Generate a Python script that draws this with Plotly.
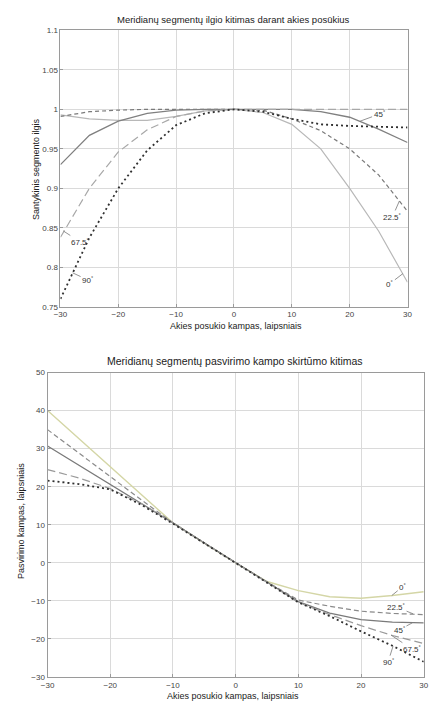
import plotly.graph_objects as go

# ---------------- data ----------------
angle_x = [-30, -25, -20, -15, -10, -5, 0, 5, 10, 15, 20, 25, 30]

meridians = ["0°", "22.5°", "45°", "67.5°", "90°"]

# top chart: relative segment length
len_0 = [0.993, 0.988, 0.986, 0.986, 0.991, 0.998, 1.0, 0.996, 0.981, 0.950, 0.900, 0.846, 0.781]
len_22 = [0.991, 0.997, 0.999, 1.0, 1.0, 1.0, 1.0, 0.999, 0.988, 0.973, 0.950, 0.917, 0.871]
len_45 = [0.930, 0.967, 0.985, 0.995, 0.999, 1.0, 1.0, 1.0, 1.0, 0.997, 0.990, 0.975, 0.958]
len_67 = [0.838, 0.900, 0.946, 0.974, 0.991, 0.998, 1.0, 1.0, 1.0, 1.0, 1.0, 1.0, 1.0]
len_90 = [0.760, 0.8375, 0.900, 0.948, 0.980, 0.995, 1.0, 0.997, 0.988, 0.981, 0.979, 0.978, 0.977]

# bottom chart: tilt angle difference, degrees
ang_0 = [40.0, 32.6, 25.3, 17.9, 10.5, 5.2, 0.0, -4.9, -7.3, -8.9, -9.3, -8.6, -7.6]
ang_22 = [35.0, 28.8, 22.6, 16.5, 10.5, 5.2, 0.0, -5.0, -9.8, -11.4, -12.7, -13.3, -13.6]
ang_45 = [30.7, 25.7, 20.7, 15.6, 10.5, 5.2, 0.0, -5.1, -10.2, -13.2, -14.9, -15.6, -15.8]
ang_67 = [24.5, 22.3, 19.5, 15.5, 10.5, 5.2, 0.0, -5.1, -10.4, -13.6, -16.5, -19.1, -21.2]
ang_90 = [21.6, 20.7, 19.3, 15.2, 10.3, 5.2, 0.0, -5.2, -10.4, -14.0, -18.0, -21.8, -26.0]

top_ticks = [0.75, 0.8, 0.85, 0.9, 0.95, 1.0, 1.05, 1.1]
top_tick_text = ["0.75", "0.8", "0.85", "0.9", "0.95", "1", "1.05", "1.1"]
x_ticks = [-30, -20, -10, 0, 10, 20, 30]
bot_ticks = [-30, -20, -10, 0, 10, 20, 30, 40, 50]

title_top = "Meridianų segmentų ilgio kitimas darant akies posūkius"
title_bot = "Meridianų segmentų pasvirimo kampo skirtūmo kitimas"
xlabel = "Akies posukio kampas, laipsniais"
ylabel_top = "Santykinis segmento ilgis"
ylabel_bot = "Pasvirimo kampas, laipsniais"

# ---------------- styles ----------------
W, H = 430, 706
FONT = "Liberation Sans, Arial, sans-serif"

top_styles = [
    dict(color="#b8b8b8", width=1.2, dash="solid"),
    dict(color="#7a7a7a", width=1.2, dash="4px,3px"),
    dict(color="#808080", width=1.3, dash="solid"),
    dict(color="#a8a8a8", width=1.2, dash="8px,4px"),
    dict(color="#303030", width=1.8, dash="2px,3px"),
]
bot_styles = [
    dict(color="#d4d6a6", width=1.4, dash="solid"),
    dict(color="#8a8a8a", width=1.2, dash="5px,3px"),
    dict(color="#7a7a7a", width=1.3, dash="solid"),
    dict(color="#9a9a9a", width=1.2, dash="8px,4px"),
    dict(color="#303030", width=1.8, dash="2px,3px"),
]

fig = go.Figure()
for vals, st, name in zip([len_0, len_22, len_45, len_67, len_90], top_styles, meridians):
    fig.add_trace(go.Scatter(x=angle_x, y=vals, mode="lines", line=st, name=name,
                             xaxis="x", yaxis="y", showlegend=False))
for vals, st, name in zip([ang_0, ang_22, ang_45, ang_67, ang_90], bot_styles, meridians):
    fig.add_trace(go.Scatter(x=angle_x, y=vals, mode="lines", line=st, name=name,
                             xaxis="x2", yaxis="y2", showlegend=False))


def px2x(p):
    return p / W


def px2y(p):
    return 1 - p / H


axis_common = dict(
    showline=True, linecolor="#9a9a9a", linewidth=1, mirror=True,
    showgrid=True, gridcolor="#dadada", gridwidth=1,
    ticks="inside", ticklen=3, tickcolor="#9a9a9a",
    tickfont=dict(family=FONT, size=8, color="#444"),
    zeroline=False,
)

fig.update_layout(
    width=W, height=H,
    margin=dict(l=0, r=0, t=0, b=0),
    paper_bgcolor="white", plot_bgcolor="white",
    xaxis=dict(domain=[px2x(55), px2x(412)], range=[-30, 30], tickvals=x_ticks,
               anchor="y", **axis_common),
    yaxis=dict(domain=[px2y(306.7), px2y(26.7)], range=[0.75, 1.1], tickvals=top_ticks,
               ticktext=top_tick_text, anchor="x", **axis_common),
    xaxis2=dict(domain=[px2x(41.7), px2x(428.7)], range=[-30, 30], tickvals=x_ticks,
                anchor="y2", **axis_common),
    yaxis2=dict(domain=[px2y(681.7), px2y(373.3)], range=[-30, 50], tickvals=bot_ticks,
                anchor="x2", **axis_common),
)

ann = []
txt_font = dict(family=FONT, size=9, color="#222")


def paper_text(text, x, y, font, angle=0):
    return dict(text=text, x=px2x(x), y=px2y(y), xref="paper", yref="paper",
                xanchor="center", yanchor="middle", textangle=angle,
                showarrow=False, font=font)


ann.append(paper_text(title_top, 233, 16, dict(family=FONT, size=9.5, color="#222")))
ann.append(paper_text(xlabel, 236, 326, txt_font))
ann.append(paper_text(ylabel_top, 30, 167, txt_font, -90))
ann.append(paper_text(title_bot, 234.5, 362, dict(family=FONT, size=10.5, color="#222")))
ann.append(paper_text(xlabel, 233, 701, txt_font))
ann.append(paper_text(ylabel_bot, 15, 524, txt_font, -90))

lab_font = dict(family=FONT, size=8, color="#333")


def deg(s):
    return s.replace("°", "<sup>°</sup>")


# top curve labels: (label, x, y, ax, ay)
top_labels = [
    ("67.5°", -29.5, 0.846, 17, 11),
    ("90°", -27.9, 0.793, 15, 7),
    ("45°", 21.8, 0.985, 19, -7),
    ("22.5°", 28.6, 0.884, -7, 16),
    ("0°", 29.2, 0.792, -13, 10),
]
for t, x, y, ax, ay in top_labels:
    ann.append(dict(text=deg(t), x=x, y=y, xref="x", yref="y", ax=ax, ay=ay,
                    showarrow=True, arrowhead=0, arrowwidth=0.8, arrowcolor="#777",
                    font=lab_font, standoff=0))

bot_labels = [
    ("0°", 24.9, -8.6, 11, -9),
    ("22.5°", 28.3, -13.4, -17, -7),
    ("45°", 28.2, -15.75, -13, 7),
    ("67.5°", 24.8, -19.0, 21, 14),
    ("90°", 25.1, -21.9, -5, 16),
]
for t, x, y, ax, ay in bot_labels:
    ann.append(dict(text=deg(t), x=x, y=y, xref="x2", yref="y2", ax=ax, ay=ay,
                    showarrow=True, arrowhead=0, arrowwidth=0.8, arrowcolor="#777",
                    font=lab_font, standoff=0))

fig.update_layout(annotations=ann)
fig.write_html("out.html")
